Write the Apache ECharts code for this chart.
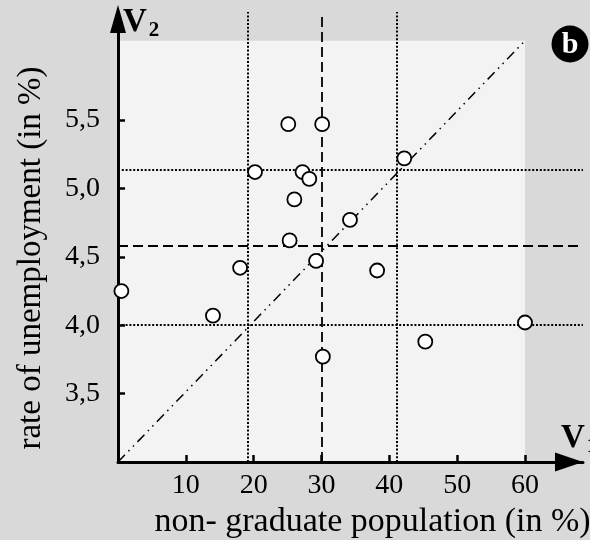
<!DOCTYPE html>
<html><head><meta charset="utf-8">
<script src="https://cdn.jsdelivr.net/npm/echarts@6/dist/echarts.min.js"></script>
<style>html,body{margin:0;padding:0;background:#d9d9d9}#c{width:590px;height:540px}</style>
</head><body><div id="c"></div>
<script>
// non-graduate population (%) and rate of unemployment (%)
const xValues = [0.5, 14.0, 18.0, 20.2, 25.1, 30.1, 27.2, 28.2, 26.0, 25.3, 29.2, 34.2, 42.2, 38.2, 60.0, 45.3, 30.2];
const yValues = [4.25, 4.07, 4.42, 5.12, 5.47, 5.47, 5.12, 5.07, 4.92, 4.62, 4.47, 4.77, 5.22, 4.40, 4.02, 3.88, 3.77];
const xTicks = [10, 20, 30, 40, 50, 60];
const yTicks = [3.5, 4.0, 4.5, 5.0, 5.5];
const xDotted = [19.2, 41.1];
const xDashed = [30.0];
const yDotted = [5.14, 4.0];
const yDashed = [4.58];
const boxX = [0, 60];
const boxY = [3.0, 6.08];
const xRange = [0, 68.55];
const yRange = [3.0, 6.29];

const FONT = '"Liberation Serif", "DejaVu Serif", serif';
const chart = echarts.init(document.getElementById('c'));
const dotted = {color: '#000', width: 2, type: [2, 1.8]};
const dashed = {color: '#000', width: 1.8, type: [10, 5]};
const mlData = [];
xDotted.forEach(v => mlData.push({xAxis: v, lineStyle: dotted}));
xDashed.forEach(v => mlData.push({xAxis: v, lineStyle: dashed}));
yDotted.forEach(v => mlData.push({yAxis: v, lineStyle: dotted}));
yDashed.forEach(v => mlData.push({yAxis: v, lineStyle: dashed}));
mlData.push([{coord: [boxX[0], boxY[0]], lineStyle: {color: '#000', width: 1.5, type: [10, 5, 1.5, 5, 1.5, 5]}}, {coord: [boxX[1], boxY[1]]}]);

chart.setOption({
  animation: false,
  backgroundColor: '#d9d9d9',
  grid: {left: 118, right: 7, top: 12, bottom: 78, containLabel: false, outerBoundsMode: 'none'},
  xAxis: {
    type: 'value', z: 3, splitLine: {show: false},
    min: xRange[0], max: xRange[1],
    axisLine: {show: true, onZero: false, symbol: ['none', 'triangle'], symbolSize: [19, 28], symbolOffset: [0, -14], lineStyle: {color: '#000', width: 3}},
    axisTick: {show: true, inside: true, length: 7, customValues: xTicks, lineStyle: {color: '#000', width: 2.5}},
    axisLabel: {customValues: xTicks, color: '#000', fontFamily: FONT, fontSize: 28, margin: 10},
    name: 'non- graduate population (in %)', nameLocation: 'middle', nameGap: 36,
    nameTextStyle: {color: '#000', fontFamily: FONT, fontSize: 34, padding: [0, 0, 0, 44]}
  },
  yAxis: {
    type: 'value', z: 3, splitLine: {show: false},
    min: yRange[0], max: yRange[1],
    axisLine: {show: true, onZero: false, symbol: ['none', 'triangle'], symbolSize: [16, 28], symbolOffset: [0, -7], lineStyle: {color: '#000', width: 3}},
    axisTick: {show: true, inside: true, length: 7, customValues: yTicks, lineStyle: {color: '#000', width: 2.5}},
    axisLabel: {customValues: yTicks, color: '#000', fontFamily: FONT, fontSize: 28, margin: 18,
      formatter: v => v.toFixed(1).replace('.', ',')},
    name: 'rate of unemployment (in %)', nameLocation: 'middle', nameGap: 70,
    nameTextStyle: {color: '#000', fontFamily: FONT, fontSize: 33, padding: [0, 42, 0, 0]}
  },
  series: [{
    type: 'scatter', z: 6,
    data: xValues.map((x, i) => [x, yValues[i]]),
    symbol: 'circle', symbolSize: 14,
    itemStyle: {color: '#fff', borderColor: '#000', borderWidth: 1.8, opacity: 1},
    markArea: {z: 1, silent: true, itemStyle: {color: '#f3f3f3'}, data: [[{coord: [boxX[0], boxY[0]]}, {coord: [boxX[1], boxY[1]]}]]},
    markLine: {z: 2, silent: true, symbol: ['none', 'none'], label: {show: false}, data: mlData}
  }],
  graphic: [
    {type: 'text', left: 123, top: 6, z: 10, style: {text: '{v|V}{s|2}', rich: {
      v: {fontFamily: FONT, fontWeight: 'bold', fontSize: 33, fill: '#000'},
      s: {fontFamily: FONT, fontWeight: 'bold', fontSize: 21, fill: '#000', padding: [16, 0, 0, 2]}}}},
    {type: 'text', left: 561, top: 422, z: 10, style: {text: '{v|V}{s|1}', rich: {
      v: {fontFamily: FONT, fontWeight: 'bold', fontSize: 33, fill: '#000'},
      s: {fontFamily: FONT, fontWeight: 'bold', fontSize: 21, fill: '#000', padding: [16, 0, 0, 2]}}}},
    {type: 'circle', z: 10, shape: {cx: 570, cy: 44, r: 18.5}, style: {fill: '#000'}},
    {type: 'text', z: 11, x: 570, y: 45, style: {text: 'b', fontFamily: FONT, fontWeight: 'bold', fontSize: 30, fill: '#fff', align: 'center', verticalAlign: 'middle'}}
  ]
});
</script></body></html>
